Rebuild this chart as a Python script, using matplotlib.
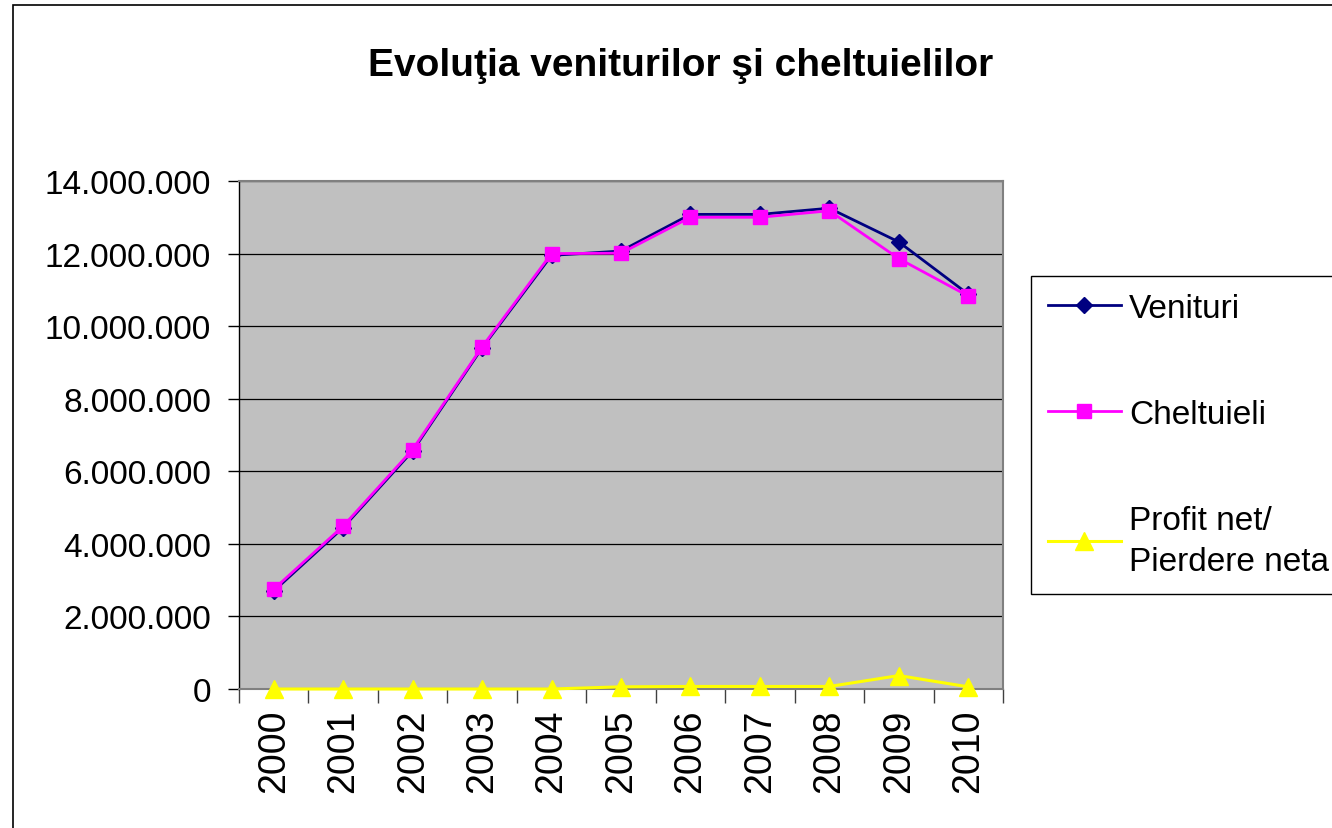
import matplotlib
matplotlib.use('Agg')
import matplotlib.pyplot as plt
from matplotlib.patches import Rectangle
from matplotlib.ticker import FixedLocator, FuncFormatter

plt.rcParams['font.family'] = ['Liberation Sans', 'DejaVu Sans']

# Data
years = ['2000', '2001', '2002', '2003', '2004', '2005',
         '2006', '2007', '2008', '2009', '2010']
venituri = [2700000, 4450000, 6560000, 9400000, 11950000, 12070000,
            13080000, 13080000, 13250000, 12320000, 10880000]
cheltuieli = [2750000, 4490000, 6600000, 9430000, 12000000, 12010000,
              13000000, 13000000, 13180000, 11860000, 10830000]
profit = [0, 0, 0, 0, 0, 60000, 70000, 70000, 70000, 370000, 60000]

title = 'Evoluţia veniturilor şi cheltuielilor'
labels = ['Venituri', 'Cheltuieli', 'Profit net/\nPierdere neta']

W, H = 1332, 829
fig = plt.figure(figsize=(W / 100, H / 100), dpi=100)

# outer chart border (cut off on the right / bottom like the source)
fig.patches.append(Rectangle((13 / W, -0.05), 1.2, 1 - 6 / H + 0.05,
                             transform=fig.transFigure, fill=False,
                             edgecolor='black', linewidth=1.2))

ax = fig.add_axes([239 / W, 1 - 690 / H, (1003 - 239) / W, (690 - 182) / H])
ax.set_facecolor('#C0C0C0')

x = list(range(len(years)))
l1, = ax.plot(x, venituri, color='#000080', marker='D', markersize=8,
              linewidth=2, label=labels[0], zorder=3)
l2, = ax.plot(x, cheltuieli, color='#FF00FF', marker='s', markersize=10,
              linewidth=2, label=labels[1], zorder=4)
l3, = ax.plot(x, profit, color='#FFFF00', marker='^', markersize=13,
              linewidth=2.2, label=labels[2], zorder=4, clip_on=False)

ax.set_ylim(0, 14000000)
ax.set_xlim(-0.5, len(years) - 0.5)

ax.yaxis.set_major_locator(FixedLocator(range(0, 14000001, 2000000)))
ax.yaxis.set_major_formatter(FuncFormatter(lambda v, p: f'{int(v):,}'.replace(',', '.')))
ax.grid(axis='y', color='black', linewidth=0.9, zorder=1)
ax.set_axisbelow(True)

ax.set_xticks(x)
ax.set_xticklabels(years, rotation=90, fontsize=27)
ax.set_xticks([i - 0.5 for i in range(len(years) + 1)], minor=True)
ax.tick_params(axis='x', which='major', length=0, pad=14)
ax.tick_params(axis='x', which='minor', length=10, width=1, color='#404040')
ax.tick_params(axis='y', length=8, width=1, pad=12, labelsize=24)

for side in ['top', 'right', 'bottom']:
    ax.spines[side].set_color('#808080')
    ax.spines[side].set_linewidth(1.5)
ax.spines['left'].set_color('black')
ax.spines['left'].set_linewidth(1)

fig.text(681 / W, 1 - 66 / H, title, ha='center', va='center',
         fontsize=28, fontweight='bold')

leg = fig.legend(handles=[l1, l2, l3], loc='upper left',
                 bbox_to_anchor=(1031 / W, 1 - 277 / H),
                 fontsize=24, frameon=True, fancybox=False, framealpha=1,
                 edgecolor='black', labelspacing=2.25, handlelength=2.2,
                 handletextpad=0.25, borderpad=0.5, borderaxespad=0)
leg.get_frame().set_linewidth(1)
for t in leg.get_texts():
    t.set_linespacing(1.45)

fig.savefig('out.png', dpi=100)
